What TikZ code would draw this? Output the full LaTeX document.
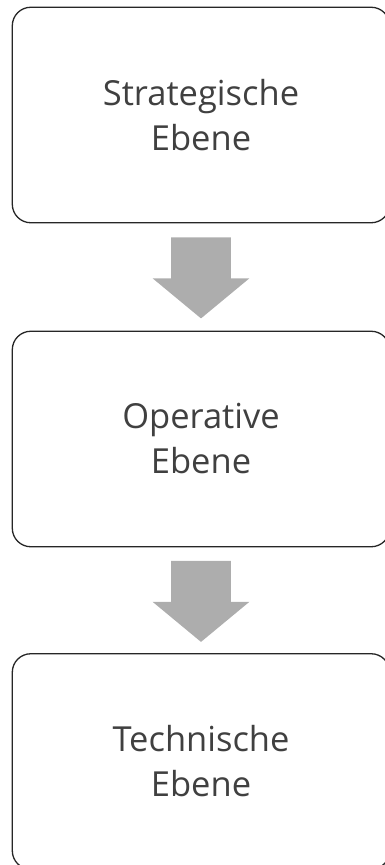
\documentclass[tikz,border=0pt]{standalone}
\usepackage{fontspec}
\setmainfont{Open Sans}
\usetikzlibrary{calc}
\definecolor{txtgray}{HTML}{404040}
\definecolor{arrgray}{HTML}{ADADAD}
\definecolor{edgecol}{HTML}{262626}
\begin{document}
\begin{tikzpicture}[x=1pt,y=-1pt,
  level/.style={draw=edgecol, line width=1.3pt, rounded corners=18.5pt,
    minimum width=377.4pt, minimum height=215.5pt, inner sep=0pt,
    align=center, text=txtgray, font=\fontsize{34.5}{45}\selectfont},
  blockarrow/.style={fill=arrgray, draw=none}]
\useasboundingbox (0,0) rectangle (385,865);
\clip (0,0) rectangle (385,865);
\node[level] (b1) at (201,115) {Strategische\\Ebene};
\node[level] (b2) at (201,439) {Operative\\Ebene};
\node[level] (b3) at (201,761.5) {Technische\\Ebene};
\coordinate (a1) at ($(b1.south)+(0,14)$);
\coordinate (a2) at ($(b2.south)+(0,13.5)$);
\foreach \t in {a1,a2}{
  \fill[blockarrow] (\t) ++(-29.85,0) -- ++(59.7,0) -- ++(0,41) -- ++(18.45,0)
    -- ++(-48.3,40) -- ++(-48.3,-40) -- ++(18.45,0) -- cycle;
}
\end{tikzpicture}
\end{document}
